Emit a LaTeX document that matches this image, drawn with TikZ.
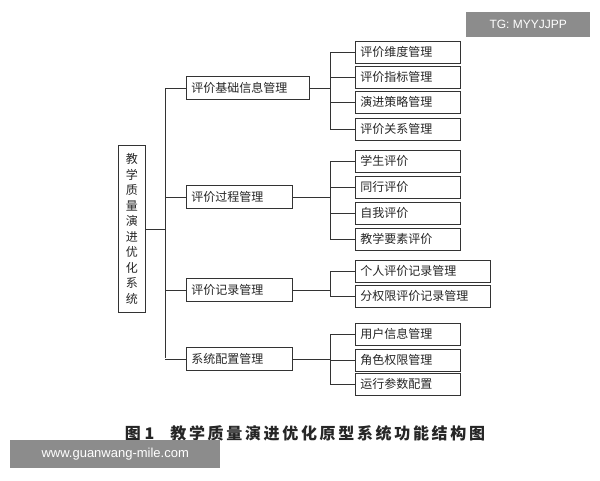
\documentclass[tikz,border=0pt]{standalone}
\usepackage{fontspec}
\setmainfont{Liberation Sans}
\newfontfamily\cjk{Noto Sans CJK SC}
\begin{document}
\begin{tikzpicture}[x=1pt,y=-1pt,
  box/.style={draw=black!80,line width=0.8pt,rectangle,anchor=north west,inner sep=0pt,font=\cjk\fontsize{12}{14}\selectfont,text=black!85},
  ln/.style={draw=black!80,line width=0.8pt}]
\useasboundingbox (0,0) rectangle (600,480);
\fill[white] (0,0) rectangle (600,480);
% root
\node[box,minimum width=27pt,minimum height=167pt,align=center,font=\cjk\fontsize{12}{15.5}\selectfont] (root) at (118,145) {教\\学\\质\\量\\演\\进\\优\\化\\系\\统};
% level 2
\node[box,minimum width=123pt,minimum height=23pt,text width=113pt,align=left] (a) at (186,76) {评价基础信息管理};
\node[box,minimum width=106pt,minimum height=23pt,text width=96pt,align=left] (b) at (186,185) {评价过程管理};
\node[box,minimum width=106pt,minimum height=23pt,text width=96pt,align=left] (c) at (186,278) {评价记录管理};
\node[box,minimum width=106pt,minimum height=23pt,text width=96pt,align=left] (d) at (186,347) {系统配置管理};
% leaves
\foreach \n/\y/\t in {a1/41/评价维度管理,a2/66/评价指标管理,a3/91/演进策略管理,a4/118/评价关系管理,
  b1/150/学生评价,b2/176/同行评价,b3/202/自我评价,b4/228/教学要素评价,
  d1/323/用户信息管理,d2/349/角色权限管理,d3/373/运行参数配置}
  \node[box,minimum width=105pt,minimum height=22pt,text width=95pt,align=left] (\n) at (355,\y) {\t};
\node[box,minimum width=135pt,minimum height=22pt,text width=125pt,align=left] (c1) at (355,260) {个人评价记录管理};
\node[box,minimum width=135pt,minimum height=22pt,text width=125pt,align=left] (c2) at (355,285) {分权限评价记录管理};
% trunk
\coordinate (t1) at (165,88);
\coordinate (t2) at (165,358);
\draw[ln] (root.east) -- (root.east -| t1);
\draw[ln] (t1) -- (t2);
\foreach \n in {a,b,c,d} \draw[ln] (\n.west -| t1) -- (\n.west);
% branches
\foreach \p/\f/\l in {a/a1/a4,b/b1/b4,c/c1/c2,d/d1/d3}{
  \draw[ln] (\p.east) -- (\p.east -| 330,0);
  \draw[ln] (\f.west -| 330,0) -- (\l.west -| 330,0);
}
\foreach \n in {a1,a2,a3,a4,b1,b2,b3,b4,c1,c2,d1,d2,d3} \draw[ln] (\n.west -| 330,0) -- (\n.west);
% caption
\node[font=\cjk\bfseries\fontsize{16}{18}\selectfont,text=black!85] (cap) at (305,433) {图 1\hspace{16pt}教\,学\,质\,量\,演\,进\,优\,化\,原\,型\,系\,统\,功\,能\,结\,构\,图};
% watermarks
\node[fill=black!45,text=white,font=\fontsize{12}{14}\selectfont,minimum width=124pt,minimum height=25pt,anchor=north west,inner sep=0pt] (wm1) at (466,12) {TG: MYYJJPP};
\node[fill=black!45,text=white,font=\fontsize{13}{15}\selectfont,minimum width=210pt,minimum height=28pt,anchor=north west,inner sep=0pt] (wm2) at (10,440) {www.guanwang-mile.com};
\end{tikzpicture}
\end{document}
